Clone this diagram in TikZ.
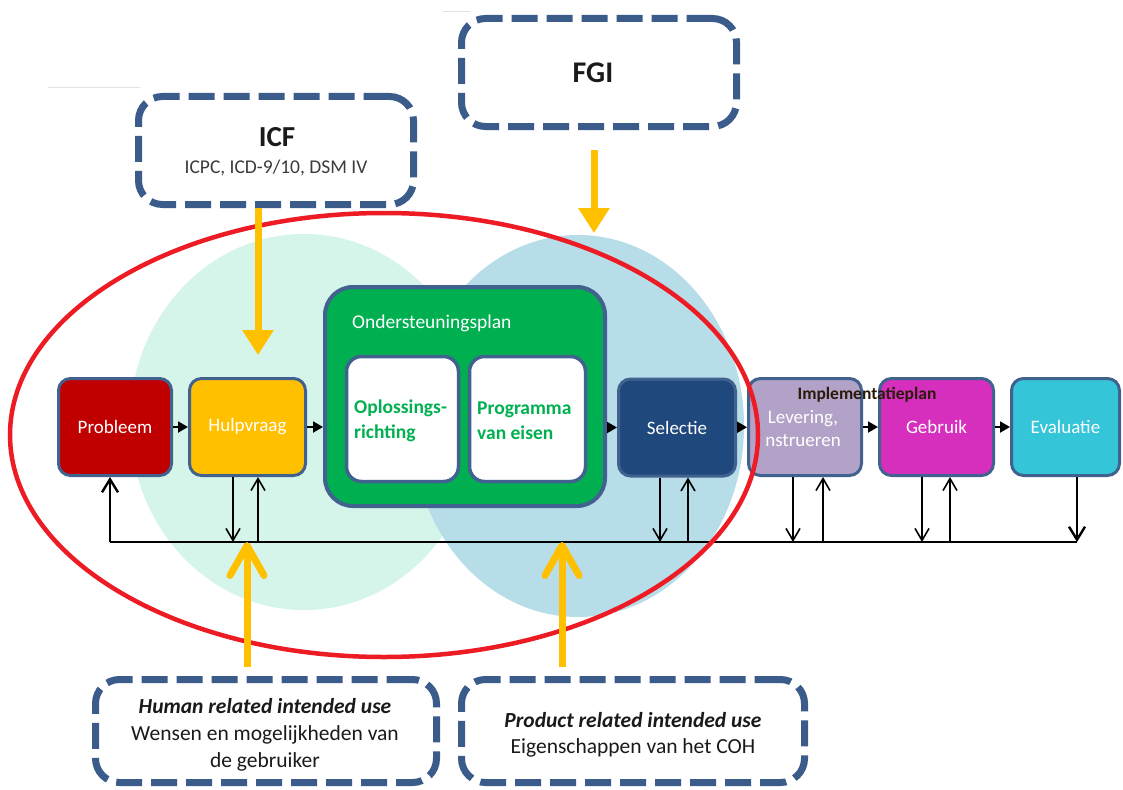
\documentclass[tikz,border=0pt]{standalone}
\usepackage{fontspec}
\setmainfont{Carlito}
\usetikzlibrary{arrows.meta}

\definecolor{mintbg}{HTML}{D6F5EA}
\definecolor{bluebg}{HTML}{B7DDE8}
\definecolor{ringred}{HTML}{ED1C24}
\definecolor{gold}{HTML}{FFC000}
\definecolor{edgeblue}{HTML}{41618F}
\definecolor{dashblue}{HTML}{3B5C8A}
\definecolor{probred}{HTML}{C00000}
\definecolor{hulpyellow}{HTML}{FFC000}
\definecolor{plangreen}{HTML}{00B050}
\definecolor{selblue}{HTML}{1F497D}
\definecolor{levlilac}{HTML}{B3A2C7}
\definecolor{gebmagenta}{HTML}{D62FBD}
\definecolor{evacyan}{HTML}{34C6D8}
\definecolor{inkdark}{HTML}{1A1A1A}
\definecolor{implink}{HTML}{2A1A0C}
\definecolor{faintgray}{HTML}{E2E2E2}

\begin{document}
\begin{tikzpicture}[x=1pt,y=-1pt,
  stage/.style={draw=edgeblue, line width=3pt, rounded corners=12pt,
    minimum height=97pt, inner sep=0pt, align=center, text=white,
    font=\fontsize{19}{23}\selectfont},
  subbox/.style={draw=edgeblue, line width=3.5pt, rounded corners=15pt,
    fill=white, minimum height=125pt, inner sep=0pt},
  subtext/.style={anchor=west, align=left, text=plangreen, inner sep=0pt,
    font=\fontsize{19.5}{25}\selectfont\bfseries},
  source/.style={draw=dashblue, line width=7pt, rounded corners=24pt,
    dash pattern=on 26pt off 9pt, fill=white, inner sep=0pt},
  flow/.style={draw=black, line width=2pt, -{Triangle[length=10pt,width=11pt]}},
  feed/.style={draw=black, line width=1.6pt, -{Straight Barb[length=12pt,width=14pt]}},
  feedbold/.style={draw=black, line width=2.4pt, -{Straight Barb[length=13pt,width=16pt]}},
  bus/.style={draw=black, line width=2pt},
  yin/.style={draw=gold, line width=7pt, -{Triangle[length=25pt,width=30pt]}},
  yup/.style={draw=gold, line width=7pt, -{Straight Barb[length=30pt,width=34pt,round]}},
]
\useasboundingbox (0,0) rectangle (1123,789);
\fill[white] (0,0) rectangle (1123,789);

% faint rules near the top
\draw[faintgray, line width=1pt] (48,88) -- (140,88);
\draw[faintgray, line width=1pt] (443,12) -- (470,12);

% background fields
\fill[mintbg] (304,422) ellipse [x radius=174pt, y radius=188pt];
\fill[bluebg] (578,426) ellipse [x radius=166pt, y radius=191pt];

% process stages
\node[stage, fill=probred, minimum width=113pt] (prob) at (115,427) {Probleem};
\node[stage, fill=hulpyellow, minimum width=116pt] (hulp) at (247.5,427) {Hulpvraag};
\node[draw=edgeblue, line width=4pt, rounded corners=28pt, fill=plangreen,
      minimum width=280pt, minimum height=219pt, inner sep=0pt] (plan) at (465,396.5) {};
\node[anchor=west, text=white, inner sep=0pt, font=\fontsize{19.5}{23}\selectfont]
      (plantitle) at (352,323) {Ondersteuningsplan};
\node[subbox, minimum width=112pt] (opl) at (402.5,419) {};
\node[subbox, minimum width=116pt] (prog) at (527.5,419) {};
\node[subtext] (opltxt) at (354,420.5) {Oplossings-\\richting};
\node[subtext] (progtxt) at (477,420.5) {Programma\\van eisen};
\node[stage, fill=selblue, minimum width=117pt] (sel) at (677,427.5) {Selectie};
\node[stage, fill=levlilac, minimum width=113pt] (lev) at (805,427) {};
\node[text=white, align=center, inner sep=0pt, font=\fontsize{19}{23}\selectfont]
      (levtxt) at (803,429) {Levering,\\nstrueren};
\node[stage, fill=gebmagenta, minimum width=114pt] (geb) at (936.5,427) {Gebruik};
\node[stage, fill=evacyan, minimum width=108pt] (eva) at (1065.5,427) {Evaluatie};
\node[text=implink, inner sep=0pt, font=\fontsize{17.5}{20}\selectfont\bfseries]
      (impl) at (867,395) {Implementatieplan};

% forward flow
\draw[flow] (prob) -- (hulp);
\draw[flow] (hulp) -- (hulp -| plan.west);
\draw[flow] (plan.east |- sel) -- (sel);
\draw[flow] (sel) -- (lev);
\draw[flow] (lev) -- (geb);
\draw[flow] (geb) -- (eva);

% feedback bus
\coordinate (b0) at (110,542);
\coordinate (b1) at (233,542);
\coordinate (b2) at (258,542);
\coordinate (b3) at (660,542);
\coordinate (b4) at (688,542);
\coordinate (b5) at (793,542);
\coordinate (b6) at (823,542);
\coordinate (b7) at (922,542);
\coordinate (b8) at (950,542);
\coordinate (b9) at (1077,542);
\draw[bus] (b0) -- (b9);
\draw[feedbold] (b0) -- (b0 |- prob.south);
\draw[feed] (b1 |- hulp.south) -- (b1);
\draw[feed] (b2) -- (b2 |- hulp.south);
\draw[feed] (b3 |- sel.south) -- (b3);
\draw[feed] (b4) -- (b4 |- sel.south);
\draw[feed] (b5 |- lev.south) -- (b5);
\draw[feed] (b6) -- (b6 |- lev.south);
\draw[feed] (b7 |- geb.south) -- (b7);
\draw[feed] (b8) -- (b8 |- geb.south);
\draw[feedbold] (b9 |- eva.south) -- (b9);

% red ring
\draw[ringred, line width=4.5pt] (384,435) ellipse [x radius=374pt, y radius=222pt];

% sources
\node[source, minimum width=275pt, minimum height=108pt] (icf) at (276,150.5) {};
\node[text=inkdark, inner sep=0pt, font=\fontsize{29}{34}\selectfont\bfseries]
      (icftitle) at (277,137) {ICF};
\node[text=inkdark!85, inner sep=0pt, font=\fontsize{19.5}{23}\selectfont]
      (icfsub) at (276,168) {ICPC, ICD-9/10, DSM IV};

\node[source, minimum width=275pt, minimum height=108pt] (fgi) at (599,72.5) {};
\node[text=inkdark, inner sep=0pt, font=\fontsize{30}{34}\selectfont\bfseries]
      (fgititle) at (593,73) {FGI};

\node[source, minimum width=341pt, minimum height=103pt] (human) at (266,731) {};
\node[text=inkdark, align=center, inner sep=0pt, font=\fontsize{21.5}{27}\selectfont]
      (humantxt) at (265,735) {\textbf{\textit{Human related intended use}}\\Wensen en mogelijkheden van\\de gebruiker};

\node[source, minimum width=343pt, minimum height=103pt] (product) at (633,731) {};
\node[text=inkdark, align=center, inner sep=0pt, font=\fontsize{21.5}{26}\selectfont]
      (producttxt) at (633,735) {\textbf{\textit{Product related intended use}}\\Eigenschappen van het COH};

% influences
\coordinate (icftip) at (258,355);
\coordinate (fgistart) at (594,150);
\coordinate (fgitip) at (594,233);
\coordinate (humfoot) at (247,667);
\coordinate (prodfoot) at (562,667);
\draw[yin] (icftip |- icf.south) -- (icftip);
\draw[yin] (fgistart) -- (fgitip);
\draw[yup] (humfoot) -- (humfoot |- b0);
\draw[yup] (prodfoot) -- (prodfoot |- b0);
\end{tikzpicture}
\end{document}
